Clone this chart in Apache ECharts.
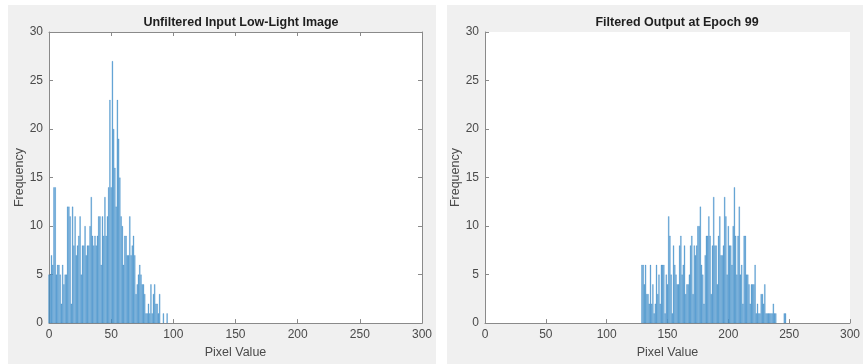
<!DOCTYPE html>
<html>
<head>
<meta charset="utf-8">
<script src="https://cdn.jsdelivr.net/npm/echarts@6/dist/echarts.min.js"></script>
<style>
html,body{margin:0;padding:0;background:#ffffff;}
#chart{width:863px;height:364px;}
</style>
</head>
<body>
<div id="chart"></div>
<script>
// ---- Data ----
var leftTitle = 'Unfiltered Input Low-Light Image';
var rightTitle = 'Filtered Output at Epoch 99';
var xAxisName = 'Pixel Value';
var yAxisName = 'Frequency';

var leftPixels = [0,1,2,3,4,5,6,7,8,9,10,11,12,13,14,15,16,17,18,19,20,21,22,23,24,25,26,27,28,29,30,31,32,33,34,35,36,37,38,39,40,41,42,43,44,45,46,47,48,49,50,51,52,53,54,55,56,57,58,59,60,61,62,63,64,65,66,67,68,69,70,71,72,73,74,75,76,77,78,79,80,81,82,83,84,85,86,87,88,89,90,91,92,93,94,95];
var leftCounts = [5,5,7,6,14,14,5,6,6,5,2,6,4,5,5,12,12,11,2,12,8,11,7,8,9,11,5,8,8,10,7,8,8,10,13,9,8,9,8,9,11,11,6,11,9,13,9,11,14,23,14,27,20,16,12,23,19,15,11,10,6,9,9,7,7,11,7,8,9,7,3,4,5,6,5,4,4,3,1,1,2,1,4,1,3,4,2,2,1,3,0,0,1,0,0,1];

var rightPixels = [129,130,131,132,133,134,135,136,137,138,139,140,141,142,143,144,145,146,147,148,149,150,151,152,153,154,155,156,157,158,159,160,161,162,163,164,165,166,167,168,169,170,171,172,173,174,175,176,177,178,179,180,181,182,183,184,185,186,187,188,189,190,191,192,193,194,195,196,197,198,199,200,201,202,203,204,205,206,207,208,209,210,211,212,213,214,215,216,217,218,219,220,221,222,223,224,225,226,227,228,229,230,231,232,233,234,235,236,237,238,239,240,241,242,243,244,245,246,247,248];
var rightCounts = [6,6,4,6,3,3,2,6,2,4,1,2,6,3,5,2,6,6,6,1,5,4,11,9,5,1,8,6,5,4,4,8,9,5,6,8,3,4,4,5,8,9,3,8,7,8,10,10,12,6,5,2,7,9,9,11,9,3,8,13,8,8,4,9,11,7,7,8,13,11,5,10,8,8,6,10,14,9,5,9,12,5,6,2,9,9,5,5,4,2,4,4,4,6,1,2,1,1,3,3,2,4,1,1,1,1,1,1,2,1,1,0,0,0,0,0,0,1,1,0];

var xTicks = [0,50,100,150,200,250,300];
var yTicks = [0,5,10,15,20,25,30];

function pairs(xs, ys){
  var out = [];
  for (var i = 0; i < xs.length; i++) { if (ys[i] > 0) out.push([xs[i], ys[i]]); }
  return out;
}

var FONT = '"Liberation Sans", Arial, Helvetica, sans-serif';
var AXIS_COLOR = '#8a8a8a';
var LABEL_COLOR = '#4a4a4a';

function xAxisCfg(grid, pos, showLabel, showName){
  return {
    type: 'value', gridIndex: grid, position: pos,
    min: xTicks[0], max: xTicks[xTicks.length-1], interval: xTicks[1]-xTicks[0],
    axisLine: {show: true, onZero: false, lineStyle: {color: AXIS_COLOR, width: 1}},
    axisTick: {show: true, inside: true, length: 4, lineStyle: {color: AXIS_COLOR}},
    splitLine: {show: false},
    axisLabel: {show: showLabel, margin: 6, color: LABEL_COLOR, fontSize: 12, fontFamily: FONT},
    name: showName ? xAxisName : '', nameLocation: 'middle', nameGap: 21,
    nameTextStyle: {color: LABEL_COLOR, fontSize: 12.5, fontFamily: FONT}
  };
}
function yAxisCfg(grid, pos, showLabel, showName){
  return {
    type: 'value', gridIndex: grid, position: pos,
    min: yTicks[0], max: yTicks[yTicks.length-1], interval: yTicks[1]-yTicks[0],
    axisLine: {show: true, onZero: false, lineStyle: {color: AXIS_COLOR, width: 1}},
    axisTick: {show: true, inside: true, length: 4, lineStyle: {color: AXIS_COLOR}},
    splitLine: {show: false},
    axisLabel: {show: showLabel, margin: 6, color: LABEL_COLOR, fontSize: 12, fontFamily: FONT},
    name: showName ? yAxisName : '', nameLocation: 'middle', nameGap: 22, nameRotate: 90,
    nameTextStyle: {color: LABEL_COLOR, fontSize: 12.5, fontFamily: FONT}
  };
}

var barStyle = {
  color: '#6aaad8',
  borderColor: 'rgba(0,100,180,0.55)',
  borderWidth: 0.4
};

var chart = echarts.init(document.getElementById('chart'), null, {renderer: 'canvas'});
chart.setOption({
  animation: false,
  backgroundColor: '#ffffff',
  graphic: [
    {type: 'rect', z: -10, silent: true, shape: {x: 8, y: 5, width: 428, height: 359}, style: {fill: '#f0f0f0'}},
    {type: 'rect', z: -10, silent: true, shape: {x: 447, y: 5, width: 416, height: 359}, style: {fill: '#f0f0f0'}}
  ],
  title: [
    {text: leftTitle, left: 236, top: 11, textAlign: 'center',
     textStyle: {fontSize: 12.5, fontWeight: 'bold', color: '#1e1e1e', fontFamily: FONT}},
    {text: rightTitle, left: 672, top: 11, textAlign: 'center',
     textStyle: {fontSize: 12.5, fontWeight: 'bold', color: '#1e1e1e', fontFamily: FONT}}
  ],
  grid: [
    {left: 49, top: 32, width: 373, height: 295, show: true, backgroundColor: '#ffffff', borderWidth: 0},
    {left: 485, top: 32, width: 373, height: 295, show: true, backgroundColor: '#ffffff', borderWidth: 0}
  ],
  xAxis: [
    xAxisCfg(0, 'bottom', true, true),
    xAxisCfg(0, 'top', false, false),
    xAxisCfg(1, 'bottom', true, true)
  ],
  yAxis: [
    yAxisCfg(0, 'left', true, true),
    yAxisCfg(0, 'right', false, false),
    yAxisCfg(1, 'left', true, true)
  ],
  series: [
    {type: 'bar', xAxisIndex: 0, yAxisIndex: 0, barWidth: 1.25, data: pairs(leftPixels, leftCounts), itemStyle: barStyle},
    {type: 'bar', xAxisIndex: 2, yAxisIndex: 2, barWidth: 1.25, data: pairs(rightPixels, rightCounts), itemStyle: barStyle}
  ]
});
</script>
</body>
</html>
